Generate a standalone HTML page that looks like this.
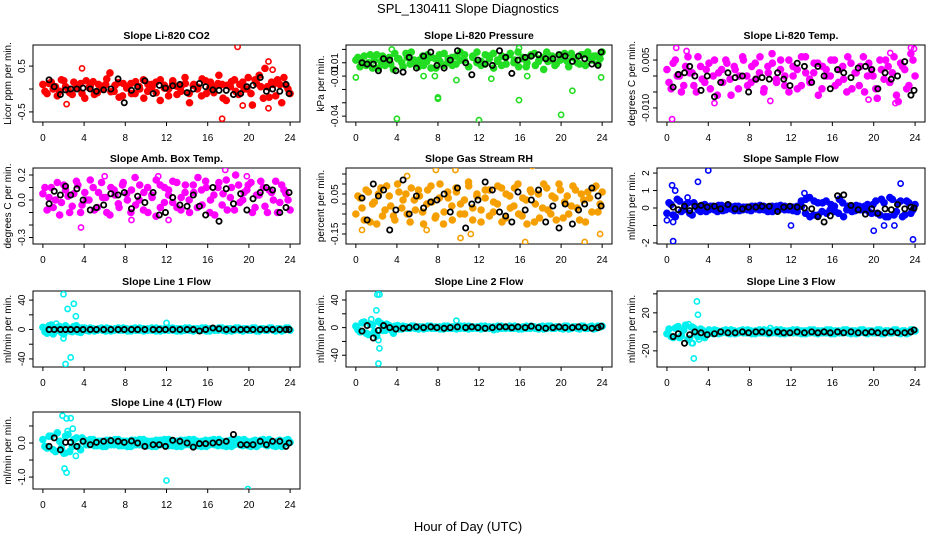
<!DOCTYPE html>
<html><head><meta charset="utf-8"><style>
html,body{margin:0;padding:0;background:#fff;}
svg{display:block;font-family:"Liberation Sans",Arial,sans-serif;}
</style></head><body>
<svg id="fig" width="936" height="540" viewBox="0 0 936 540">
<text x="468" y="13" text-anchor="middle" font-size="13">SPL_130411  Slope Diagnostics</text>
<text x="468" y="531" text-anchor="middle" font-size="13">Hour of Day (UTC)</text>
</svg>
<script>
const xTicks = [0,4,8,12,16,20,24];
const blackX = [0.6,1.1,1.7,2.2,2.7,3.3,3.9,4.6,5.2,5.9,6.6,7.3,7.9,8.6,9.2,9.9,10.7,11.3,11.9,12.6,13.3,14.0,14.6,15.2,15.8,16.5,17.1,17.8,18.5,19.2,19.8,20.4,21.1,21.7,22.3,23.0,23.6,23.9];

const co2Cloud = [0.1,-0.1,0.15,0.05,-0.05,0.18,0.0,-0.12,0.08,0.12,-0.2,0.03,0.16,-0.08,0.06,0.1,0.35,-0.05,0.14,-0.15,0.02,0.12,-0.1,0.05,0.2,-0.05,0.1,0.15,-0.25,0.08,0.0,0.18,-0.12,0.06,0.12,-0.3,0.1,0.04,0.22,-0.1,0.15,0.05,0.3,-0.2,0.08,0.16,-0.05,0.1,0.0,0.25,-0.35,0.12,0.05,0.45,-0.18,0.1,0.2,-0.3,0.08,-0.1];
const co2Cloud2 = [-0.05,0.12,0.0,-0.15,0.2,0.05,-0.08,0.15,0.02,-0.1,0.18,0.06,-0.12,0.1,0.0,0.22,-0.06,0.08,-0.18,0.12,0.04,-0.1,0.16,0.0,-0.2,0.1,0.05,-0.08,0.2,0.02,-0.15,0.12,0.06,-0.05,0.25,-0.1,0.08,0.0,-0.15,0.18,0.02,-0.08,0.12,0.1,-0.25,0.05,0.2,-0.12,0.15,0.0,-0.1,0.2,0.3,-0.2,0.05,0.15,-0.15,0.1,0.25,0.0];
const co2Black = [0.2,0.05,-0.12,-0.02,0,0,0.02,0,-0.05,-0.02,0,0.22,-0.3,-0.03,0.05,0.18,-0.1,0.08,0.02,0.07,0.1,-0.08,0,0.12,0.05,-0.02,-0.03,-0.03,-0.12,-0.1,0.05,0.08,0.25,-0.05,0,-0.05,0.1,-0.1];
const co2OutX = [18.9,17.4,21.9,22.3,21.9,3.8,2.3,19.4];
const co2OutY = [0.92,-0.65,0.6,0.42,-0.42,0.45,-0.33,-0.36];

const presCloud = [0.002,-0.003,0.005,0,-0.004,0.006,0.001,-0.002,0.004,-0.005,0.003,0,0.007,-0.001,0.002,-0.003,0.005,0.001,-0.004,0.003,0.006,-0.002,0,0.004,-0.001,0.008,0.002,-0.003,0.005,0,-0.002,0.006,0.003,-0.004,0.001,0.005,-0.001,0.007,0.002,-0.003,0.004,0,0.006,-0.002,0.003,-0.005,0.001,0.005,-0.001,0.002,0.007,-0.003,0.004,0,0.006,-0.002,0.003,0.005,-0.001,0.008];
const presCloud2 = [0.004,0,-0.002,0.006,0.002,-0.004,0.005,0.001,-0.001,0.007,0.003,-0.003,0.004,0.008,0,0.002,-0.002,0.006,0.004,-0.004,0.001,0.007,0.003,-0.002,0.005,0.002,0.006,-0.003,0.004,0.008,0.001,-0.001,0.005,0.007,0.002,-0.002,0.004,0.006,0,0.008,0.003,-0.003,0.005,0.007,0.001,0.004,0.008,0.002,-0.002,0.006,0.004,0.001,0.007,0.003,-0.001,0.006,0.008,0.002,0.005,0.003];
const presBlack = [0,-0.001,-0.001,-0.006,0.003,0.002,-0.006,-0.007,0.004,-0.004,0.005,0.008,-0.002,-0.004,0.002,0.009,0,-0.009,0.002,-0.001,-0.002,0.009,0.004,-0.008,0.002,0.004,0.005,0.006,0.003,0.003,0.006,0.005,0.001,0.005,0.003,-0.001,-0.002,0.008];
const presOutX = [0,4,12,20,8,8,15.9,21.1,23.9,6.6,16.7,7.7,13.2,9.8,3.5,15.9];
const presOutY = [-0.011,-0.042,-0.043,-0.039,-0.026,-0.027,-0.028,-0.021,-0.011,-0.010,-0.010,-0.010,-0.012,-0.013,0.010,0.011];

const tempCloud = [0.002,-0.004,0.005,0,-0.003,0.006,0.001,-0.005,0.003,-0.002,0.004,0,-0.006,0.002,0.005,-0.001,0.003,-0.004,0.006,0,-0.002,0.004,0.001,-0.005,0.003,0.007,-0.001,0.002,-0.003,0.005,0,-0.004,0.006,0.001,-0.002,0.004,-0.006,0.003,0,0.005,-0.003,0.002,-0.001,0.006,-0.004,0.001,0.003,-0.005,0.004,0,-0.007,0.002,0.005,-0.002,0.006,-0.008,0.003,-0.004,0.007,0];
const tempCloud2 = [-0.002,0.004,0,-0.005,0.003,0.001,-0.003,0.006,-0.001,0.002,-0.004,0.005,0.001,-0.002,0.004,-0.006,0.002,0,0.005,-0.003,0.003,-0.001,0.006,-0.004,0.001,0.004,-0.002,0.005,0,-0.005,0.003,0.002,-0.003,0.006,-0.001,0.001,0.004,-0.004,0.002,0,0.005,-0.002,0.003,-0.005,0.004,0.001,-0.003,0.006,0,0.002,-0.004,0.005,-0.001,0.003,0.001,-0.006,0.004,0.002,-0.003,0.005];
const tempBlack = [-0.0035,0.0005,0.001,0.003,0,-0.0045,0,-0.0065,-0.002,0.001,-0.0005,0,-0.005,-0.001,-0.0005,-0.001,0.001,-0.001,-0.003,0.004,0.003,-0.002,0.003,0,-0.004,0.002,0.001,-0.0005,0.0025,0.003,0.002,-0.004,0.001,-0.001,0,0.0045,-0.006,-0.0045];
const tempOutX = [0.5,0.9,10,21.6,22.1,23.6,23.9,4.6,19.5,1.9];
const tempOutY = [-0.0135,0.0088,-0.0078,0.0072,-0.0085,0.0088,0.0085,-0.0085,-0.0074,0.0078];

const ambCloud = [0.05,-0.08,0.1,0.0,-0.12,0.12,0.03,-0.05,0.15,-0.1,0.06,0.0,0.1,-0.06,0.14,0.02,-0.12,0.08,-0.03,0.12,0.05,-0.1,0.18,0.0,-0.08,0.1,0.04,-0.13,0.12,-0.02,0.08,0.15,-0.06,0.02,0.12,-0.1,0.06,0.18,-0.04,0.1,0.0,-0.12,0.14,0.05,-0.08,0.1,0.2,-0.02,0.06,0.12,-0.1,0.04,0.15,-0.05,0.08,0.0,-0.1,0.12,0.05,-0.08];
const ambCloud2 = [0.1,0.02,-0.06,0.14,-0.02,0.08,-0.1,0.05,0.12,-0.04,0.0,0.16,-0.08,0.06,0.02,-0.1,0.1,0.04,-0.06,0.14,0.0,0.08,-0.04,0.12,0.06,-0.1,0.02,0.16,-0.06,0.1,0.04,-0.02,0.14,-0.08,0.06,0.0,0.12,-0.06,0.08,0.15,-0.1,0.04,0.1,-0.04,0.16,0.02,-0.08,0.12,0.0,0.08,0.14,-0.06,0.04,0.1,-0.1,0.06,0.15,-0.02,0.08,0.0];
const ambBlack = [-0.03,0.07,0.04,0.11,0.04,0.09,0,-0.08,-0.06,-0.04,0.05,0.04,0.06,-0.07,0.03,-0.02,0.06,-0.12,-0.1,0.02,-0.04,-0.05,0.04,-0.05,-0.12,0.1,-0.17,0.09,-0.03,0.05,-0.08,0.01,0.06,0.1,0.08,-0.1,-0.06,0.06];
const ambOutX = [3.7,21,17.7,6,11.2,19.8,8.6,12.2];
const ambOutY = [-0.22,-0.40,0.24,0.19,0.19,0.19,-0.16,-0.16];

const rhCloud = [-0.05,0.03,-0.08,0.06,0.0,-0.1,0.08,-0.03,0.04,-0.06,0.1,-0.02,0.05,-0.09,0.02,0.07,-0.04,0.0,0.09,-0.07,0.03,-0.1,0.06,-0.01,0.08,-0.05,0.02,0.11,-0.08,0.04,-0.03,0.07,-0.06,0.01,0.09,-0.09,0.05,-0.02,0.08,-0.05,0.03,-0.1,0.06,0.0,-0.07,0.1,-0.03,0.04,-0.08,0.07,0.01,-0.05,0.09,-0.02,0.05,-0.09,0.03,0.08,-0.04,0.06];
const rhCloud2 = [0.04,-0.02,0.07,-0.09,0.01,0.05,-0.06,0.09,-0.01,-0.08,0.06,0.02,-0.05,0.08,-0.03,0.04,-0.1,0.07,0.01,-0.06,0.1,-0.04,0.03,-0.08,0.06,0.0,-0.05,0.09,-0.02,0.05,-0.09,0.03,0.07,-0.04,0.0,0.08,-0.07,0.04,-0.01,0.1,-0.06,0.02,0.07,-0.09,0.05,-0.02,0.08,-0.05,0.03,0.1,-0.07,0.04,-0.01,0.07,-0.08,0.02,0.06,-0.04,0.09,0.0];
const rhBlack = [0.03,-0.08,0.1,0.04,0.07,-0.13,-0.03,0.12,-0.05,0.04,-0.02,0.01,0.02,0.05,-0.04,0.08,-0.12,0,0.02,0.11,0.07,-0.04,-0.06,-0.09,0.06,-0.03,0.02,0.07,-0.09,-0.01,-0.12,0,-0.1,-0.03,0,0.08,0.04,-0.01];
const rhOutX = [0.6,5,7.8,9.7,17.2,16.5,22.3,10.2,23.8,6.9,11.2];
const rhOutY = [-0.13,0.14,0.17,0.17,0.19,-0.19,-0.19,-0.17,-0.15,-0.13,-0.15];

const flowCloud = [-0.3,0.2,-0.5,0.4,-0.1,0.3,-0.4,0.1,-0.2,0.2,-0.1,0.1,-0.2,0.15,-0.1,0.1,-0.15,0.1,-0.1,0.05,-0.15,0.1,-0.1,0.1,-0.2,0.1,-0.1,0.15,-0.1,0.05,-0.15,0.1,0.1,0.5,-0.5,0.4,-0.4,0.3,-0.3,0.2,-0.2,0.5,-0.5,0.1,-0.2,0.15,-0.1,0.1,-0.2,0.2,-0.3,0.5,-0.5,0.6,-0.4,0.3,-0.5,0.4,-0.3,0.2];
const flowCloud2 = [0.3,-0.4,0.5,-0.2,0.2,-0.3,0.3,-0.1,0.15,-0.2,0.1,-0.1,0.15,-0.15,0.1,-0.05,0.1,-0.15,0.05,-0.1,0.1,-0.05,0.15,-0.1,0.05,-0.2,0.1,-0.05,0.1,-0.1,0.05,-0.2,0.4,-0.3,0.6,-0.4,0.3,-0.2,0.4,-0.1,0.1,-0.3,0.3,-0.1,0.1,-0.15,0.1,-0.1,0.2,-0.3,0.4,-0.4,0.3,-0.5,0.5,-0.2,0.4,-0.4,0.3,-0.1];
const flowBlack = [0.05,-0.1,0.1,-0.15,0.1,0.15,0.05,0.1,-0.05,0.2,-0.05,-0.05,0.05,0.05,0.1,0.1,-0.2,0.05,0.1,0.05,0,-0.05,-0.5,-0.8,-0.45,0.7,0.75,0.15,-0.1,-0.35,-0.05,-0.3,-0.05,-0.1,0.2,-0.05,0.05,0];
const flowOutX = [0.6,0.5,0.8,3,4,0,0.6,12,20,23.8,22.6,21,22,13.3,2];
const flowOutY = [-1.9,1.3,1.0,1.5,2.15,-0.7,-0.8,-1.0,-1.3,-1.8,1.4,-1.0,-1.0,0.85,0.6];

const l1Cloud = [3,-5,6,-2,4,-6,2,-3,5,-4,2,-2,1,-1,2,-2,1,-1,2,-1,1,-2,2,-1,1,-1,2,-2,1,-1,2,-1,1,-2,2,-1,1,-1,2,-2,1,-1,2,-1,1,-2,2,-1,1,-1,2,-2,1,-1,2,-1,1,-2,2,-1];
const l1Cloud2 = [-3,5,-6,3,-4,5,-2,4,-3,2,-1,2,-2,1,-1,2,-2,1,-1,2,-2,1,-1,2,-2,1,-1,2,-2,1,-1,2,-2,1,-1,2,-2,1,-1,2,-2,1,-1,2,-2,1,-1,2,-2,1,-1,2,-2,1,-1,2,-2,1,-1,2];
const l1Black = [0,0,0,0,0,0,0,0,0,0,0,0,0,0,0,0,0,0,0,0,0,0,0,-2,0,2,1,0,0,0,0,0,0,0,0,0,0,0];
const l1OutX = [2,2.4,3,3.2,2.2,2.7,2,12,1.3];
const l1OutY = [48,28,35,18,-47,-38,-12,9,8];

const l2Cloud = [2,-6,8,-10,4,-12,6,-4,3,-8,3,-2,1,-1,2,-2,1,-1,2,-1,1,-2,2,-1,1,-1,2,-2,1,-1,2,-1,1,-3,2,-1,1,-1,2,-2,1,-1,2,-1,1,-2,2,-1,1,-1,2,-2,1,-1,2,-1,1,-2,2,2];
const l2Cloud2 = [-3,7,-8,5,-6,9,-4,5,-3,2,-2,2,-1,2,-1,1,-2,2,-1,1,-2,2,-1,1,-2,2,-1,2,-1,1,-2,2,-1,1,-2,2,-1,2,-1,1,-2,2,-1,1,-2,2,-1,2,-1,1,-2,2,-1,1,-2,2,-1,2,-1,1];
const l2Black = [-5,3,-15,-4,3,0,-2,-1,0,1,0,1,0,-1,0,1,0,1,0,-1,0,1,1,0,1,0,2,0,-1,0,1,0,0,1,0,-1,0,2];
const l2OutX = [2.1,2.3,2,2.3,2.2,1.5,2.2,9.8];
const l2OutY = [48,48,25,-30,-52,12,-18,10];

const l3Cloud = [-2,-5,4,-6,2,-8,5,-3,3,-6,2,-2,1,-1,2,-2,1,-1,2,-1,1,-2,2,-1,1,-1,2,-2,1,-1,2,-1,1,-2,2,-1,1,-1,2,-2,1,-1,2,-1,1,-2,2,-1,1,-1,2,-2,1,-1,2,-1,1,-2,2,1];
const l3Cloud2 = [3,-6,5,-4,7,-7,4,-5,2,-3,-1,2,-2,1,-1,2,-2,1,-1,2,-2,1,-1,2,-2,1,-1,2,-2,1,-1,2,-2,1,-1,2,-2,1,-1,2,-2,1,-1,2,-2,1,-1,2,-2,1,-1,2,-2,1,-1,2,-2,1,-1,2];
const l3Black = [-5,-2,-12,-3,0,-1,-3,-2,0,-1,-1,0,-1,0,0,-1,0,-1,-1,0,-1,0,-1,0,-1,0,-1,0,-1,-1,0,-1,-1,0,-1,-1,0,2];
const l3OutX = [2.9,3,2.6,2.4,2.5,3.1,2.3,2.1,10,1.1];
const l3OutY = [32,18,-28,-12,-12,-8,5,8,4,6];

const l4Cloud = [0.1,-0.15,0.2,-0.25,0.05,-0.3,0.25,-0.1,0.15,-0.2,0.08,-0.05,0.1,-0.08,0.05,-0.1,0.08,-0.05,0.1,-0.08,0.05,-0.1,0.08,-0.05,0.1,-0.08,0.05,-0.1,0.08,-0.05,0.1,-0.08,0.05,-0.1,0.08,-0.05,0.1,-0.08,0.05,-0.1,0.08,-0.05,0.1,-0.08,0.05,-0.1,0.08,-0.05,0.1,-0.08,0.05,-0.1,0.08,-0.05,0.1,-0.08,0.05,-0.1,0.08,0.02];
const l4Cloud2 = [-0.1,0.2,-0.2,0.3,-0.15,0.2,-0.25,0.1,-0.1,0.15,-0.05,0.1,-0.08,0.05,-0.1,0.08,-0.05,0.1,-0.08,0.05,-0.1,0.08,-0.05,0.1,-0.08,0.05,-0.1,0.08,-0.05,0.1,-0.08,0.05,-0.1,0.08,-0.05,0.1,-0.08,0.05,-0.1,0.08,-0.05,0.1,-0.08,0.05,-0.1,0.08,-0.05,0.1,-0.08,0.05,-0.1,0.08,-0.05,0.1,-0.08,0.05,-0.1,0.08,-0.05,0.1];
const l4Black = [-0.1,0.15,-0.2,0.02,0.02,-0.1,0.05,-0.05,0.02,0.05,0.07,0.05,0.02,0.06,0,-0.1,-0.05,-0.05,-0.1,0.08,0.05,0,-0.12,-0.02,-0.02,0,0.02,0.05,0.25,-0.05,-0.05,-0.05,0.05,-0.05,0.05,0.05,-0.1,0];
const l4OutX = [1.9,2.3,2.7,2.9,2.4,2.1,2.3,12,19.9,3.2,2.2];
const l4OutY = [0.8,0.72,0.73,0.42,0.35,-0.75,-0.87,-1.1,-1.35,-0.38,-0.3];

const panels = [
 {name:'co2',title:'Slope Li-820 CO2',ylab:'Licor ppm per min.',col:0,row:0,ylim:[-0.72,0.96],ticks:[-0.5,0,0.5],labels:['-0.5','','0.5'],color:'#ff0000',cloud:co2Cloud,cloud2:co2Cloud2,black:co2Black,ox:co2OutX,oy:co2OutY},
 {name:'pressure',title:'Slope Li-820 Pressure',ylab:'kPa per min.',col:1,row:0,ylim:[-0.0444,0.0133],ticks:[0.01,0,-0.01,-0.02,-0.03,-0.04],labels:['','0.01','-0.01','','','-0.04'],color:'#22dd22',cloud:presCloud,cloud2:presCloud2,black:presBlack,ox:presOutX,oy:presOutY},
 {name:'temp',title:'Slope Li-820 Temp.',ylab:'degrees C per min.',col:2,row:0,ylim:[-0.0144,0.0097],ticks:[0.005,0,-0.005,-0.01],labels:['0.005','','','-0.010'],color:'#ff00ff',cloud:tempCloud,cloud2:tempCloud2,black:tempBlack,ox:tempOutX,oy:tempOutY},
 {name:'amb-temp',title:'Slope Amb. Box Temp.',ylab:'degrees C per min.',col:0,row:1,ylim:[-0.352,0.256],ticks:[0.2,0.1,0,-0.1,-0.2,-0.3],labels:['0.2','','0.0','','','-0.3'],color:'#ff00ff',cloud:ambCloud,cloud2:ambCloud2,black:ambBlack,ox:ambOutX,oy:ambOutY},
 {name:'rh',title:'Slope Gas Stream RH',ylab:'percent per min.',col:1,row:1,ylim:[-0.2,0.18],ticks:[0.15,0.1,0.05,0,-0.05,-0.1,-0.15],labels:['','','0.05','','','','-0.15'],color:'#f5a000',cloud:rhCloud,cloud2:rhCloud2,black:rhBlack,ox:rhOutX,oy:rhOutY},
 {name:'sample-flow',title:'Slope Sample Flow',ylab:'ml/min per min.',col:2,row:1,ylim:[-2.06,2.29],ticks:[2,1,0,-1,-2],labels:['2','1','0','','-2'],color:'#0000ff',cloud:flowCloud,cloud2:flowCloud2,black:flowBlack,ox:flowOutX,oy:flowOutY},
 {name:'line1-flow',title:'Slope Line 1 Flow',ylab:'ml/min per min.',col:0,row:2,ylim:[-51,52.4],ticks:[40,20,0,-20,-40],labels:['40','','0','','-40'],color:'#00f0f0',cloud:l1Cloud,cloud2:l1Cloud2,black:l1Black,ox:l1OutX,oy:l1OutY},
 {name:'line2-flow',title:'Slope Line 2 Flow',ylab:'ml/min per min.',col:1,row:2,ylim:[-57,53],ticks:[40,20,0,-20,-40],labels:['40','','0','','-40'],color:'#00f0f0',cloud:l2Cloud,cloud2:l2Cloud2,black:l2Black,ox:l2OutX,oy:l2OutY},
 {name:'line3-flow',title:'Slope Line 3 Flow',ylab:'ml/min per min.',col:2,row:2,ylim:[-37,43],ticks:[40,20,0,-20],labels:['','20','','-20'],color:'#00f0f0',cloud:l3Cloud,cloud2:l3Cloud2,black:l3Black,ox:l3OutX,oy:l3OutY},
 {name:'line4-flow',title:'Slope Line 4 (LT) Flow',ylab:'ml/min per min.',col:0,row:3,ylim:[-1.35,0.91],ticks:[0.5,0,-0.5,-1],labels:['','0.0','','-1.0'],color:'#00f0f0',cloud:l4Cloud,cloud2:l4Cloud2,black:l4Black,ox:l4OutX,oy:l4OutY}
];

const colX = [[33,300],[346,612],[657,925]];
const rowY = [[45,122],[168,244],[291,367],[412,489]];
const NS = 'http://www.w3.org/2000/svg';
const svg = document.getElementById('fig');
function mk(tag, attrs, parent){const e=document.createElementNS(NS,tag);for(const k in attrs)e.setAttribute(k,attrs[k]);(parent||svg).appendChild(e);return e;}

panels.forEach(p=>{
  const [L,R]=colX[p.col],[T,B]=rowY[p.row];
  const g=mk('g',{});
  
  
  const xs=h=>L+(h+0.96)/25.92*(R-L);
  const ys=v=>B-(v-p.ylim[0])/(p.ylim[1]-p.ylim[0])*(B-T);
  const clip=mk('clipPath',{id:'c-'+p.name},g);
  mk('rect',{x:L,y:T,width:R-L,height:B-T},clip);
  const t=mk('text',{x:(L+R)/2,y:T-6,'text-anchor':'middle','font-size':'10.5','font-weight':'bold'},g);
  t.textContent=p.title;
  
  
  const yl=mk('text',{x:0,y:0,'text-anchor':'middle','font-size':'10',transform:`translate(${L-22},${(T+B)/2}) rotate(-90)`},g);
  yl.textContent=p.ylab;
  
  
  const ty=p.ticks.map(ys);
  mk('line',{x1:L,x2:L,y1:Math.min(...ty),y2:Math.max(...ty),stroke:'#000'},g);
  p.ticks.forEach((v,i)=>{
    const y=ys(v);
    mk('line',{x1:L-4,x2:L,y1:y,y2:y,stroke:'#000'},g);
    if(p.labels[i]){
      const lt=mk('text',{x:0,y:0,'text-anchor':'middle','font-size':'10',transform:`translate(${L-8},${y}) rotate(-90)`},g);
      lt.textContent=p.labels[i];
      
      
    }
  });
  mk('line',{x1:xs(0),x2:xs(24),y1:B,y2:B,stroke:'#000'},g);
  xTicks.forEach(h=>{
    mk('line',{x1:xs(h),x2:xs(h),y1:B,y2:B+4,stroke:'#000'},g);
    const xt=mk('text',{x:xs(h),y:B+19,'text-anchor':'middle','font-size':'10'},g);
    xt.textContent=h;
    
    
  });
  const box=mk('rect',{x:L,y:T,width:R-L,height:B-T,fill:'none',stroke:'#000'},g);
  
  
  const pts=mk('g',{'clip-path':`url(#c-${p.name})`},g);
  const n=p.cloud.length;
  p.cloud.forEach((v,i)=>{
    const c=mk('circle',{cx:xs(i*24/(n-1)),cy:ys(v),r:3,fill:p.color,stroke:p.color,'stroke-width':1.6},pts);
    
    
  });
  const n2=p.cloud2.length;
  p.cloud2.forEach((v,i)=>{
    const c=mk('circle',{cx:xs((i+0.5)*24/n2),cy:ys(v),r:3,fill:p.color,stroke:p.color,'stroke-width':1.6},pts);
    
    
  });
  p.ox.forEach((h,i)=>{
    const c=mk('circle',{cx:xs(h),cy:ys(p.oy[i]),r:2.6,fill:'none',stroke:p.color,'stroke-width':1.6},pts);
    
    
  });
  p.black.forEach((v,i)=>{
    const c=mk('circle',{cx:xs(blackX[i]),cy:ys(v),r:2.6,fill:'none',stroke:'#000','stroke-width':1.8},pts);
    
    
  });
});
</script>
</body></html>
